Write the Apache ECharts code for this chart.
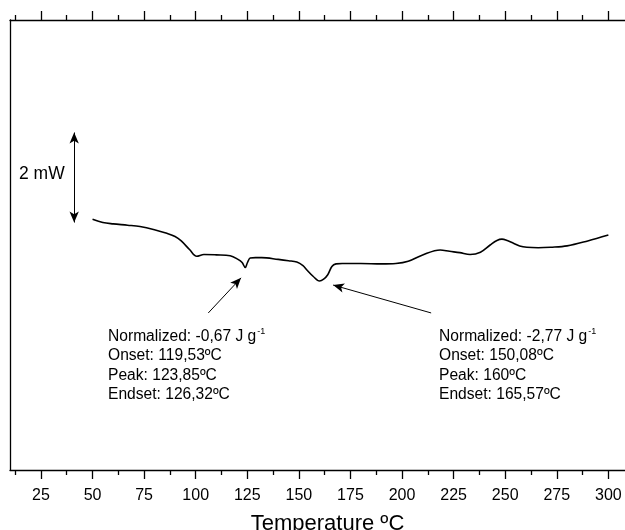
<!DOCTYPE html>
<html>
<head>
<meta charset="utf-8">
<script src="https://cdn.jsdelivr.net/npm/echarts@6/dist/echarts.min.js"></script>
<style>
  html, body { margin: 0; padding: 0; background: #fff; }
  #chart { width: 625px; height: 530px; }
</style>
</head>
<body>
<div id="chart"></div>
<script>
// DSC heating curve: temperature (ºC) against heat flow (mW, arbitrary offset)
const temperature = [50, 55, 60, 67, 73, 80, 86, 90, 93, 97, 100.5, 104, 110, 116.7, 120.5, 122.5, 124, 125, 126.4, 129,
  132, 140, 145, 149, 152, 154, 157, 160, 162, 164, 166, 168, 171, 180, 190, 197, 203, 210, 218.5, 223,
  228, 233, 238, 242.7, 246, 248.4, 251, 254, 257, 260.5, 266, 272, 280, 290, 300];
const heatFlow = [5.57, 5.50, 5.47, 5.44, 5.41, 5.34, 5.26, 5.19, 5.09, 4.90, 4.75, 4.79, 4.78, 4.76, 4.68, 4.61, 4.50, 4.60, 4.71, 4.72,
  4.72, 4.68, 4.65, 4.62, 4.54, 4.44, 4.30, 4.20, 4.24, 4.34, 4.52, 4.58, 4.59, 4.59, 4.58, 4.59, 4.64, 4.78, 4.89, 4.86,
  4.83, 4.79, 4.84, 5.00, 5.10, 5.13, 5.10, 5.04, 4.98, 4.95, 4.94, 4.95, 4.98, 5.09, 5.22];

const majorTicks = [25, 50, 75, 100, 125, 150, 175, 200, 225, 250, 275, 300];
const minorTicks = [12.5, 37.5, 62.5, 87.5, 112.5, 137.5, 162.5, 187.5, 212.5, 237.5, 262.5, 287.5];

// 2 mW scale bar (temperature position, lower and upper heat flow)
const scaleBar = { t: 41.1, from: 5.5, to: 7.5, label: '2 mW' };

// Annotation arrows: [tail temperature, tail heat flow, tip temperature, tip heat flow]
const peakArrows = [
  [106.1, 3.49, 122.0, 4.27],
  [214.1, 3.49, 166.6, 4.11]
];

const peakNotes = [
  ['Normalized: -0,67 J g{sup|-1}', 'Onset: 119,53ºC', 'Peak: 123,85ºC', 'Endset: 126,32ºC'],
  ['Normalized: -2,77 J g{sup|-1}', 'Onset: 150,08ºC', 'Peak: 160ºC', 'Endset: 165,57ºC']
];

const FONT = 'Liberation Sans, Arial, sans-serif';
const chart = echarts.init(document.getElementById('chart'));

const markData = [
  [{ coord: [scaleBar.t, scaleBar.from], symbol: 'arrow' }, { coord: [scaleBar.t, scaleBar.to], symbol: 'arrow' }]
].concat(peakArrows.map(a => [
  { coord: [a[0], a[1]], symbol: 'none' },
  { coord: [a[2], a[3]], symbol: 'arrow' }
]));

function axisBase(pos, ticks, len, showLine, showLabel) {
  return {
    type: 'value', position: pos, min: 10, max: 310,
    axisLine: { show: showLine, lineStyle: { color: '#000', width: 1.3 } },
    axisTick: { show: true, inside: false, length: len, customValues: ticks, lineStyle: { color: '#000', width: 1.3 } },
    axisLabel: { show: showLabel, customValues: ticks, color: '#000', fontSize: 16, fontFamily: FONT, margin: 18 },
    splitLine: { show: false }
  };
}

const bottomMajor = axisBase('bottom', majorTicks, 9, true, true);
bottomMajor.name = 'Temperature ºC';
bottomMajor.nameLocation = 'middle';
bottomMajor.nameGap = 43;
bottomMajor.nameTextStyle = { color: '#000', fontSize: 22, fontFamily: FONT, padding: [0, 0, 0, 16] };

const noteStyle = text => ({
  text: text.join('\n'), font: '15.6px ' + FONT, fill: '#000', lineHeight: 19.4,
  rich: { sup: { fontSize: 9, fontFamily: FONT, padding: [0, 0, 10, 1] } }
});

chart.setOption({
  animation: false,
  grid: { left: 10, right: -4, top: 20, bottom: 60, outerBoundsMode: 'none', containLabel: false },
  xAxis: [
    bottomMajor,
    axisBase('bottom', minorTicks, 5, false, false),
    axisBase('top', majorTicks, 9, true, false),
    axisBase('top', minorTicks, 5, false, false)
  ],
  yAxis: {
    type: 'value', min: 0, max: 10,
    axisLine: { show: true, lineStyle: { color: '#000', width: 1.3 } },
    axisTick: { show: false }, axisLabel: { show: false }, splitLine: { show: false }
  },
  graphic: [
    { type: 'text', left: 19, top: 165, style: { text: scaleBar.label, font: '17.5px ' + FONT, fill: '#000' } },
    { type: 'text', left: 108, top: 327, style: noteStyle(peakNotes[0]) },
    { type: 'text', left: 439, top: 327, style: noteStyle(peakNotes[1]) }
  ],
  series: [{
    type: 'line',
    data: temperature.map((t, i) => [t, heatFlow[i]]),
    showSymbol: false,
    smooth: 0.35,
    lineStyle: { color: '#000', width: 1.6 },
    markLine: {
      silent: true,
      symbolSize: [7, 11],
      label: { show: false },
      lineStyle: { color: '#000', width: 1, type: 'solid' },
      data: markData
    }
  }]
});
</script>
</body>
</html>
